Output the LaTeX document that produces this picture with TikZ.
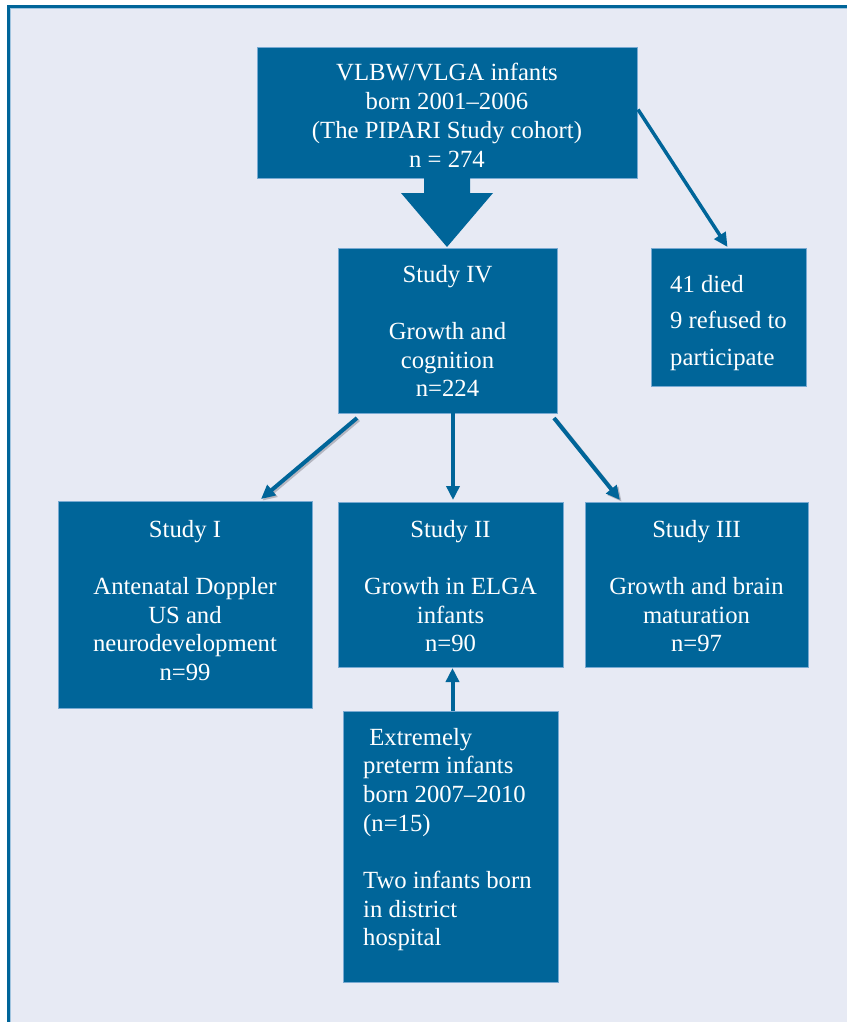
\documentclass[tikz,border=0pt]{standalone}
\usepackage{fontspec}
\setmainfont{Liberation Serif}
\usetikzlibrary{arrows.meta,calc}
\definecolor{boxblue}{RGB}{0,101,153}
\definecolor{bgcol}{RGB}{231,234,244}
\definecolor{edgecol}{RGB}{120,170,210}
\definecolor{shadowcol}{RGB}{140,140,150}
\begin{document}
\begin{tikzpicture}[x=1pt,y=-1pt,
  box/.style={fill=boxblue, draw=edgecol, line width=0.6pt, inner sep=0pt, outer sep=0pt},
  txt/.style={text=white, inner sep=0pt, font=\fontsize{24.7}{28.7}\selectfont},
  conn/.style={draw=boxblue, line width=4pt, -{Triangle[width=13pt,length=14pt]}},
  connshadow/.style={draw=shadowcol, opacity=0.55, line width=4pt, -{Triangle[width=13pt,length=14pt]},
    transform canvas={shift={(1.6pt,-1.6pt)}}}
]
\useasboundingbox (0,0) rectangle (847,1022);
% frame and background
\fill[white] (0,0) rectangle (847,1022);
\fill[bgcol] (8.5,6.5) rectangle (847,1022);
\draw[boxblue, line width=3pt] (8.5,1022) -- (8.5,6.5) -- (847,6.5);
\draw[edgecol!70, line width=1pt] (10.5,1022) -- (10.5,8.5) -- (847,8.5);

% boxes
\node[box, minimum width=380pt, minimum height=131pt] (top) at (447,112.5) {};
\node[box, minimum width=219pt, minimum height=165pt] (s4) at (447.5,330.5) {};
\node[box, minimum width=155pt, minimum height=138pt] (died) at (728.5,317) {};
\node[box, minimum width=254pt, minimum height=207pt] (s1) at (185,604.5) {};
\node[box, minimum width=225pt, minimum height=165pt] (s2) at (450.5,584.5) {};
\node[box, minimum width=223pt, minimum height=165pt] (s3) at (696.5,584.5) {};
\node[box, minimum width=215pt, minimum height=271pt] (extra) at (450.5,846.5) {};

% texts
\node[txt, anchor=base] (toptext) at (447,81) {\begin{tabular}[t]{@{}c@{}}VLBW/VLGA infants\\ born 2001–2006\\ (The PIPARI Study cohort)\\ n = 274\end{tabular}};
\node[txt, anchor=base] (s4text) at (447.5,282) {\begin{tabular}[t]{@{}c@{}}Study IV\\ \\ Growth and\\ cognition\\ n=224\end{tabular}};
\node[txt, anchor=base west] (diedtext) at (670,292) {\begin{tabular}[t]{@{}l@{}}41 died\\[8pt] 9 refused to\\[8pt] participate\end{tabular}};
\node[txt, anchor=base] (s1text) at (185,537) {\begin{tabular}[t]{@{}c@{}}Study I\\ \\ Antenatal Doppler\\ US and\\ neurodevelopment\\ n=99\end{tabular}};
\node[txt, anchor=base] (s2text) at (450.5,537) {\begin{tabular}[t]{@{}c@{}}Study II\\ \\ Growth in ELGA\\ infants\\ n=90\end{tabular}};
\node[txt, anchor=base] (s3text) at (696.5,537) {\begin{tabular}[t]{@{}c@{}}Study III\\ \\ Growth and brain\\ maturation\\ n=97\end{tabular}};
\node[txt, anchor=base west] (extratext) at (363,745) {\begin{tabular}[t]{@{}l@{}}\ Extremely\\ preterm infants\\ born 2007–2010\\ (n=15)\\ \\ Two infants born\\ in district\\ hospital\end{tabular}};

% big block arrow from top to Study IV
\fill[boxblue] ($(top.south)+(-23,-0.5)$) -- ($(top.south)+(23,-0.5)$) -- ($(top.south)+(23,15)$)
  -- ($(top.south)+(46,15)$) -- ($(s4.north)+(-0.5,-1)$) -- ($(top.south)+(-46,15)$)
  -- ($(top.south)+(-23,15)$) -- cycle;

% top to died
\draw[draw=boxblue, line width=3.5pt, -{Triangle[width=13pt,length=14pt]}] ($(top.east)+(1,-3)$) -- ($(died.north)+(-1,-1)$);

% Study IV to studies I, II, III
\draw[connshadow] ($(s4.south west)+(19,5)$) -- ($(s1.north)+(76,-2)$);
\draw[conn] ($(s4.south west)+(19,5)$) -- ($(s1.north)+(76,-2)$);
\draw[conn] ($(s4.south)+(5.5,0)$) -- ($(s2.north)+(2.5,-2)$);
\draw[connshadow] ($(s4.south east)+(-3,5)$) -- ($(s3.north west)+(35,-2)$);
\draw[conn] ($(s4.south east)+(-3,5)$) -- ($(s3.north west)+(35,-2)$);

% extra to Study II
\draw[conn] ($(extra.north)+(2,0)$) -- ($(s2.south)+(2,1)$);
\end{tikzpicture}
\end{document}
